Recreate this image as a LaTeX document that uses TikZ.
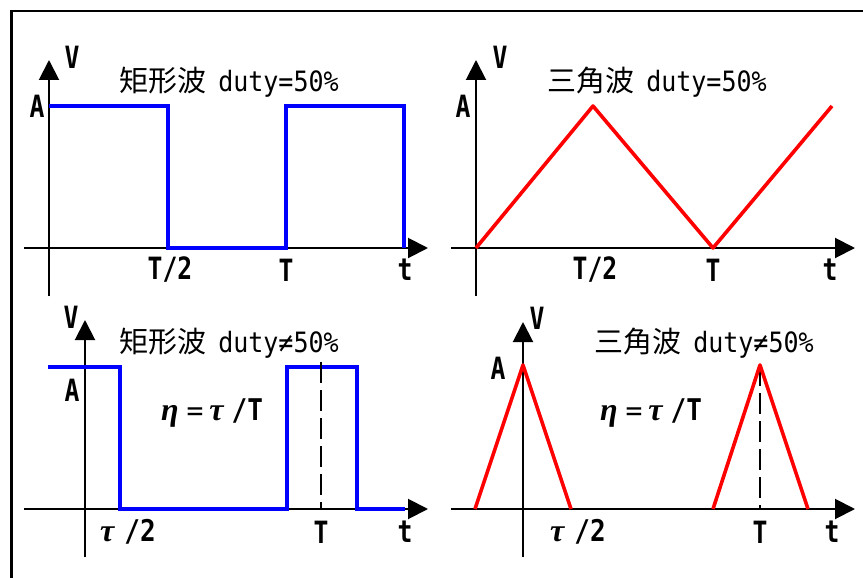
\documentclass[tikz,border=0pt]{standalone}
\usepackage{fontspec}
\usetikzlibrary{arrows.meta}
\newfontfamily\cjk{Noto Sans CJK JP}
\newfontfamily\mono{DejaVu Sans Mono}
\newfontfamily\gk{Liberation Serif}
\newcommand{\ttl}[1]{{\cjk\fontsize{29}{32}\selectfont #1}\hspace*{12pt}}
\newcommand{\duty}[1]{\scalebox{1}[1.12]{\mono\fontsize{25}{30}\selectfont #1}}
\newcommand{\gsym}[1]{{\gk\bfseries\itshape\fontsize{32}{32}\selectfont #1}}
\newcommand{\bsym}[1]{\scalebox{1}[1.15]{\mono\bfseries\fontsize{26}{30}\selectfont #1}}
\newcommand{\eqsym}{{\mono\fontsize{28}{30}\selectfont =}}
\newcommand{\lab}[1]{\scalebox{0.95}[1.18]{#1}}
\begin{document}
\begin{tikzpicture}[x=1pt,y=-1pt,
  axis/.style={line width=2pt,-{Triangle[length=20pt,width=20pt]}},
  sq/.style={blue,line width=3.8pt,line join=miter},
  tri/.style={red,line width=3.6pt,line join=round},
  dsh/.style={line width=2.2pt,dash pattern=on 21pt off 7pt},
  lbl/.style={inner sep=0pt,font=\mono\bfseries\fontsize{26}{28}\selectfont},
  txt/.style={inner sep=0pt},
]
\useasboundingbox (0,0) rectangle (863,578);
% frame
\coordinate (fb) at (11.5,578);
\coordinate (fc) at (11.5,11);
\coordinate (fr) at (863,11);
\draw[line width=2.2pt] (fb) -- (fc) -- (fr);

% ---------- top left: square wave 50% ----------
\coordinate (a1o) at (24,248);  \coordinate (a1e) at (428,248);
\coordinate (a1b) at (49,296);  \coordinate (a1t) at (49,60);
\draw[axis] (a1o) -- (a1e);
\draw[axis] (a1b) -- (a1t);
\coordinate (s1) at (49,106); \coordinate (s2) at (168,106);
\coordinate (s3) at (168,248); \coordinate (s4) at (286,248);
\coordinate (s5) at (286,106); \coordinate (s6) at (404,106);
\coordinate (s7) at (404,248);
\draw[sq] (s1) -- (s2) -- (s3) -- (s4) -- (s5) -- (s6) -- (s7);
\node[lbl] (v1) at (72,57) {\lab{V}};
\node[lbl] (aa1) at (37,106) {\lab{A}};
\node[txt] (t1) at (229,82) {\ttl{矩形波}\duty{duty=50\%}};
\node[lbl] (th1) at (170,270) {\lab{T/2}};
\node[lbl] (tt1) at (286,270) {\lab{T}};
\node[lbl] (tl1) at (405,270) {\lab{t}};

% ---------- top right: triangle wave 50% ----------
\coordinate (b1o) at (451,248);  \coordinate (b1e) at (855,248);
\coordinate (b1b) at (476,296);  \coordinate (b1t) at (476,60);
\draw[axis] (b1o) -- (b1e);
\draw[axis] (b1b) -- (b1t);
\coordinate (r1) at (476,248); \coordinate (r2) at (593,106);
\coordinate (r3) at (713,248); \coordinate (r4) at (832,106);
\draw[tri] (r1) -- (r2) -- (r3) -- (r4);
\node[lbl] (v2) at (500,57) {\lab{V}};
\node[lbl] (aa2) at (463,106) {\lab{A}};
\node[txt] (t2) at (657,82) {\ttl{三角波}\duty{duty=50\%}};
\node[lbl] (th2) at (595,270) {\lab{T/2}};
\node[lbl] (tt2) at (713,270) {\lab{T}};
\node[lbl] (tl2) at (830,270) {\lab{t}};

% ---------- bottom left: square wave duty != 50% ----------
\coordinate (c1o) at (24,509);  \coordinate (c1e) at (428,509);
\coordinate (c1b) at (85,557);  \coordinate (c1t) at (85,320);
\draw[axis] (c1o) -- (c1e);
\draw[axis] (c1b) -- (c1t);
\coordinate (q1) at (48,367);  \coordinate (q2) at (120,367);
\coordinate (q3) at (120,509); \coordinate (q4) at (287,509);
\coordinate (q5) at (287,367); \coordinate (q6) at (357,367);
\coordinate (q7) at (357,509); \coordinate (q8) at (405,509);
\draw[sq] (q1) -- (q2) -- (q3) -- (q4) -- (q5) -- (q6) -- (q7) -- (q8);
\coordinate (d1t) at (321,362); \coordinate (d1b) at (321,509);
\draw[dsh] (d1t) -- (d1b);
\node[lbl] (v3) at (71,317) {\lab{V}};
\node[lbl] (aa3) at (72,390) {\lab{A}};
\node[txt] (t3) at (229,343) {\ttl{矩形波}\duty{duty≠50\%}};
\node[txt] (e3) at (212,413) {\gsym{η}\hspace{8pt}\eqsym\hspace{6pt}\gsym{τ}\hspace{8pt}\bsym{/T}};
\node[txt] (h3) at (128,532) {\gsym{τ}\hspace{10pt}\bsym{/2}};
\node[lbl] (tt3) at (321,532) {\lab{T}};
\node[lbl] (tl3) at (405,532) {\lab{t}};

% ---------- bottom right: triangle pulses ----------
\coordinate (d2o) at (451,509);  \coordinate (d2e) at (855,509);
\coordinate (d2b) at (523,557);  \coordinate (d2t) at (523,322);
\draw[axis] (d2o) -- (d2e);
\draw[axis] (d2b) -- (d2t);
\coordinate (p1) at (475,509); \coordinate (p2) at (523,365);
\coordinate (p3) at (571,509);
\coordinate (p4) at (713,509); \coordinate (p5) at (760,365);
\coordinate (p6) at (808,509);
\draw[tri] (p1) -- (p2) -- (p3);
\coordinate (d2dt) at (760,365); \coordinate (d2db) at (760,509);
\draw[dsh] (d2dt) -- (d2db);
\draw[tri] (p4) -- (p5) -- (p6);
\node[lbl] (v4) at (537,318) {\lab{V}};
\node[lbl] (aa4) at (498,368) {\lab{A}};
\node[txt] (t4) at (704,343) {\ttl{三角波}\duty{duty≠50\%}};
\node[txt] (e4) at (651,413) {\gsym{η}\hspace{8pt}\eqsym\hspace{6pt}\gsym{τ}\hspace{8pt}\bsym{/T}};
\node[txt] (h4) at (578,532) {\gsym{τ}\hspace{10pt}\bsym{/2}};
\node[lbl] (tt4) at (760,532) {\lab{T}};
\node[lbl] (tl4) at (832,532) {\lab{t}};
\end{tikzpicture}
\end{document}
